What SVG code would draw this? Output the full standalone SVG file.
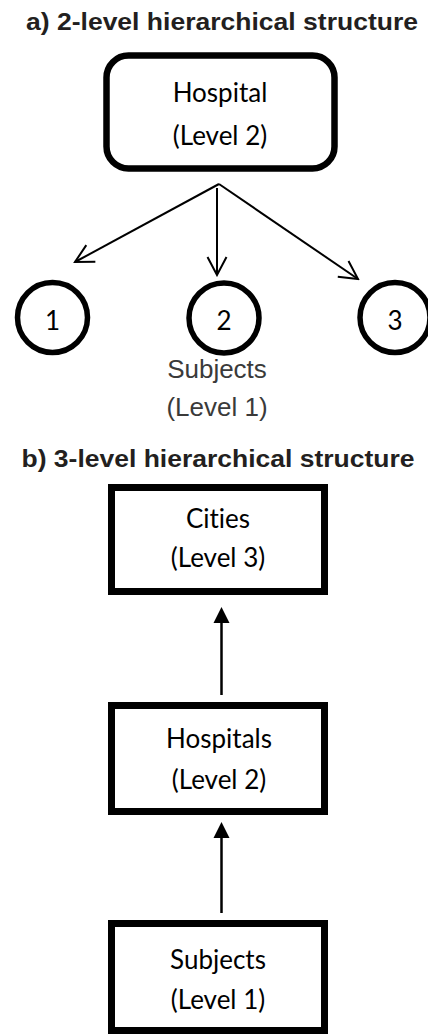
<svg xmlns="http://www.w3.org/2000/svg" width="428" height="1034" viewBox="0 0 428 1034">
  <style>
    .title { font-family: "Liberation Sans", Arial, sans-serif; font-weight: bold; font-size: 24px; fill: #231f20; text-anchor: middle; }
    .lbl { font-family: Lato, "Open Sans", sans-serif; font-size: 26px; fill: #000; text-anchor: middle; font-variant-ligatures: none; font-feature-settings: "liga" 0; }
    .glbl { font-family: "Liberation Sans", Arial, sans-serif; font-size: 26px; fill: #3a3a3a; text-anchor: middle; }
    .box { fill: #fff; stroke: #000; stroke-width: 7; }
    .rbox { fill: #fff; stroke: #000; stroke-width: 6.5; }
    .circ { fill: #fff; stroke: #000; stroke-width: 5.5; }
    .edge { fill: none; stroke: #000; stroke-width: 2; }
    .edge2 { fill: none; stroke: #000; stroke-width: 2.5; }
  </style>
  <defs>
    <marker id="open" viewBox="-21 -12 23 24" refX="0" refY="0" markerWidth="23" markerHeight="24" markerUnits="userSpaceOnUse" orient="auto">
      <path d="M-18,-9.5 L0,0 L-18,9.5" fill="none" stroke="#000" stroke-width="2"/>
    </marker>
    <marker id="solid" viewBox="0 -9 17 18" refX="0" refY="0" markerWidth="17" markerHeight="18" markerUnits="userSpaceOnUse" orient="auto">
      <path d="M0,-8 L16,0 L0,8 Z" fill="#000"/>
    </marker>
  </defs>

  <text class="title" x="222" y="30" textLength="392" lengthAdjust="spacingAndGlyphs">a) 2-level hierarchical structure</text>

  <g id="connectors">
    <path class="edge" d="M219,184 L75,262" marker-end="url(#open)"/>
    <path class="edge" d="M217,188 L217,275" marker-end="url(#open)"/>
    <path class="edge" d="M219,184 L358,279" marker-end="url(#open)"/>
    <path class="edge2" d="M221.5,695 L221.5,623" marker-end="url(#solid)"/>
    <path class="edge2" d="M221.5,913 L221.5,838" marker-end="url(#solid)"/>
  </g>

  <g id="hospital">
    <rect class="rbox" x="106.5" y="55.5" width="228" height="113" rx="22"/>
    <text class="lbl" x="220" y="102">Hospital</text>
    <text class="lbl" x="220" y="145">(Level 2)</text>
  </g>

  <g id="subject1">
    <circle class="circ" cx="52.5" cy="317.5" r="35"/>
    <text class="lbl" x="52.5" y="330">1</text>
  </g>
  <g id="subject2">
    <circle class="circ" cx="224" cy="318" r="35"/>
    <text class="lbl" x="224" y="330">2</text>
  </g>
  <g id="subject3">
    <circle class="circ" cx="395" cy="317.5" r="35"/>
    <text class="lbl" x="395" y="330">3</text>
  </g>

  <g id="subjects-label">
    <text class="glbl" x="217" y="378">Subjects</text>
    <text class="glbl" x="217" y="416">(Level 1)</text>
  </g>

  <text class="title" x="218" y="467" textLength="393" lengthAdjust="spacingAndGlyphs">b) 3-level hierarchical structure</text>

  <g id="cities">
    <rect class="box" x="111.5" y="487.5" width="213" height="104"/>
    <text class="lbl" x="218" y="528">Cities</text>
    <text class="lbl" x="218" y="567">(Level 3)</text>
  </g>

  <g id="hospitals">
    <rect class="box" x="111.5" y="705.5" width="213" height="106"/>
    <text class="lbl" x="219" y="748">Hospitals</text>
    <text class="lbl" x="219" y="789">(Level 2)</text>
  </g>

  <g id="subjects">
    <rect class="box" x="111.5" y="923.5" width="213" height="107"/>
    <text class="lbl" x="218" y="969">Subjects</text>
    <text class="lbl" x="218" y="1009">(Level 1)</text>
  </g>
</svg>
